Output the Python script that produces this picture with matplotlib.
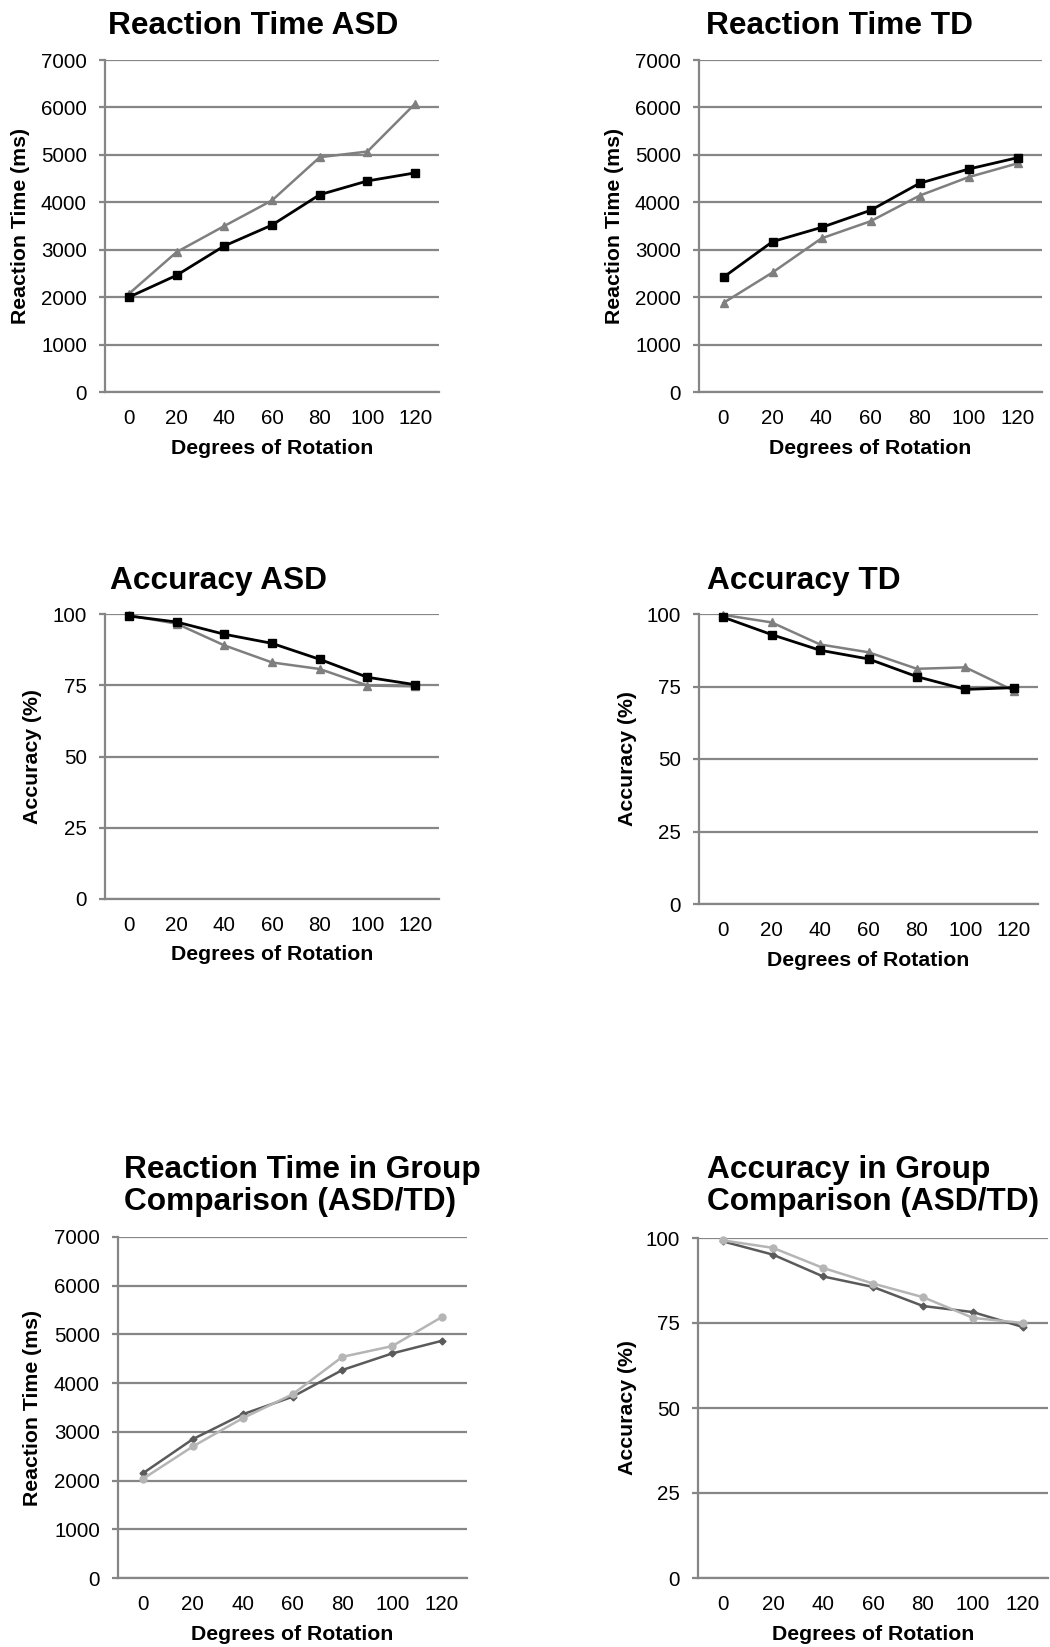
import matplotlib
matplotlib.use("Agg")
import matplotlib.pyplot as plt

plt.rcParams['font.family'] = ['Liberation Sans', 'DejaVu Sans']

# ---------------- data ----------------
degrees = ['0', '20', '40', '60', '80', '100', '120']

rt_asd_cond1 = [2000, 2460, 3080, 3520, 4160, 4450, 4620]   # black squares
rt_asd_cond2 = [2070, 2950, 3500, 4040, 4950, 5070, 6080]   # gray triangles
rt_td_cond1 = [2420, 3170, 3470, 3830, 4400, 4700, 4940]
rt_td_cond2 = [1880, 2520, 3240, 3600, 4140, 4530, 4820]

acc_asd_cond1 = [99.3, 97.2, 92.9, 89.7, 84.1, 77.8, 75.2]
acc_asd_cond2 = [99.5, 96.6, 89.0, 83.0, 80.7, 74.9, 74.6]
acc_td_cond1 = [98.9, 92.9, 87.5, 84.5, 78.4, 74.0, 74.6]
acc_td_cond2 = [99.7, 97.1, 89.5, 86.8, 81.1, 81.6, 73.6]

rt_group_td = [2150, 2850, 3360, 3720, 4270, 4610, 4870]     # dark diamonds
rt_group_asd = [2035, 2700, 3280, 3770, 4540, 4760, 5360]    # light circles
acc_group_td = [99.0, 95.1, 88.7, 85.6, 80.0, 78.2, 73.8]
acc_group_asd = [99.3, 97.1, 91.2, 86.6, 82.6, 76.5, 75.0]

rt_ticks = [0, 1000, 2000, 3000, 4000, 5000, 6000, 7000]
acc_ticks = [0, 25, 50, 75, 100]

# ---------------- layout helpers ----------------
W, H = 1050, 1647
fig = plt.figure(figsize=(W / 100, H / 100), dpi=100)

GRID = '#868686'
BLACK = '#000000'
GRAY = '#7f7f7f'
DARK = '#5a5a5a'
LIGHT = '#b5b5b5'

TITLE_FS = 22.8
LABEL_FS = 15.3
TICK_FS = 14.8


def fx(x):
    return x / W


def fy(y):
    return 1 - y / H


def make_axes(l, t, r, b, yticks):
    ax = fig.add_axes([fx(l), fy(b), (r - l) / W, (b - t) / H])
    ax.set_xlim(-0.5, len(degrees) - 0.5)
    ax.set_ylim(yticks[0], yticks[-1])
    ax.set_yticks(yticks)
    ax.set_xticks(range(len(degrees)))
    ax.set_xticklabels(degrees)
    for s in ['top', 'right']:
        ax.spines[s].set_visible(False)
    for s in ['left', 'bottom']:
        ax.spines[s].set_color(GRID)
        ax.spines[s].set_linewidth(1.6)
    ax.grid(axis='y', color=GRID, linewidth=1.6)
    ax.set_axisbelow(True)
    ax.tick_params(axis='y', direction='out', length=4.5, width=1.6,
                   color=GRID, pad=8.5, labelsize=TICK_FS)
    ax.tick_params(axis='x', length=0, pad=12, labelsize=TICK_FS)
    return ax


def labels(ax, l, t, r, b, ylab, ylab_x, xlab_y):
    fig.text(fx(ylab_x), fy((t + b) / 2), ylab, rotation=90, ha='center',
             va='center', fontsize=LABEL_FS, fontweight='bold')
    fig.text(fx((l + r) / 2), fy(xlab_y), 'Degrees of Rotation', ha='center',
             va='center', fontsize=LABEL_FS, fontweight='bold')


def title(text, x, y):
    fig.text(fx(x), fy(y), text, ha='left', va='baseline', fontsize=TITLE_FS,
             fontweight='bold', linespacing=1.08)


x = list(range(len(degrees)))

# ---- Panel 1: Reaction Time ASD
box = (105, 60, 439, 392)
ax = make_axes(*box, rt_ticks)
ax.plot(x, rt_asd_cond2, color=GRAY, lw=1.8, marker='^', ms=5.5, clip_on=False)
ax.plot(x, rt_asd_cond1, color=BLACK, lw=2.0, marker='s', ms=5.5, clip_on=False)
labels(ax, *box, 'Reaction Time (ms)', 20, 449)
title('Reaction Time ASD', 108, 34)

# ---- Panel 2: Reaction Time TD
box = (699, 60, 1042, 392)
ax = make_axes(*box, rt_ticks)
ax.plot(x, rt_td_cond2, color=GRAY, lw=1.8, marker='^', ms=5.5, clip_on=False)
ax.plot(x, rt_td_cond1, color=BLACK, lw=2.0, marker='s', ms=5.5, clip_on=False)
labels(ax, *box, 'Reaction Time (ms)', 615, 448)
title('Reaction Time TD', 706, 34)

# ---- Panel 3: Accuracy ASD
box = (105, 614, 439, 899)
ax = make_axes(*box, acc_ticks)
ax.plot(x, acc_asd_cond2, color=GRAY, lw=1.8, marker='^', ms=5.5, clip_on=False)
ax.plot(x, acc_asd_cond1, color=BLACK, lw=2.0, marker='s', ms=5.5, clip_on=False)
labels(ax, *box, 'Accuracy (%)', 33, 955)
title('Accuracy ASD', 110, 589)

# ---- Panel 4: Accuracy TD
box = (699, 614, 1038, 904)
ax = make_axes(*box, acc_ticks)
ax.plot(x, acc_td_cond2, color=GRAY, lw=1.8, marker='^', ms=5.5, clip_on=False)
ax.plot(x, acc_td_cond1, color=BLACK, lw=2.0, marker='s', ms=5.5, clip_on=False)
labels(ax, *box, 'Accuracy (%)', 627, 960)
title('Accuracy TD', 707, 589)

# ---- Panel 5: Reaction Time group comparison
box = (118, 1237, 467, 1578)
ax = make_axes(*box, rt_ticks)
ax.plot(x, rt_group_td, color=DARK, lw=1.8, marker='D', ms=3.5, clip_on=False)
ax.plot(x, rt_group_asd, color=LIGHT, lw=1.8, marker='o', ms=5, clip_on=False)
labels(ax, *box, 'Reaction Time (ms)', 33, 1635)
title('Reaction Time in Group\nComparison (ASD/TD)', 124, 1210)

# ---- Panel 6: Accuracy group comparison
box = (698, 1238, 1048, 1578)
ax = make_axes(*box, acc_ticks)
ax.plot(x, acc_group_td, color=DARK, lw=1.8, marker='D', ms=3.5, clip_on=False)
ax.plot(x, acc_group_asd, color=LIGHT, lw=1.8, marker='o', ms=5, clip_on=False)
labels(ax, *box, 'Accuracy (%)', 627, 1635)
title('Accuracy in Group\nComparison (ASD/TD)', 707, 1210)

fig.savefig('out.png', dpi=100, facecolor='white')
